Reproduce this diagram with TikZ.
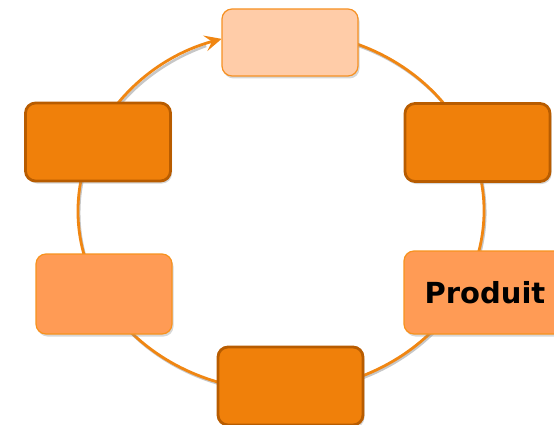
\documentclass[tikz,border=0pt]{standalone}
\usepackage{fontspec}
\setsansfont{DejaVu Sans}
\usetikzlibrary{arrows.meta,shadows,calc}
\definecolor{ringorange}{RGB}{240,134,18}
\definecolor{darkfill}{RGB}{240,128,10}
\definecolor{darkline}{RGB}{184,92,0}
\definecolor{midfill}{RGB}{255,155,85}
\definecolor{midline}{RGB}{247,146,30}
\definecolor{lightfill}{RGB}{255,204,168}
\definecolor{lightline}{RGB}{246,145,35}

\begin{document}
\begin{tikzpicture}[x=1pt,y=1pt]
		\tikzstyle{every node}+=[inner sep=0pt]
		\tikzstyle{box}=[rectangle, rounded corners=10pt, drop shadow={shadow xshift=1.5pt, shadow yshift=-2.5pt, fill=black!45, opacity=0.35}]
		\tikzstyle{darkbox}=[box, fill=darkfill, draw=darkline, line width=2.8pt, minimum width=145pt, minimum height=78pt]
		\tikzstyle{midbox}=[box, fill=midfill, draw=midline, line width=1.2pt, minimum width=136pt, minimum height=80pt]
		\tikzstyle{lightbox}=[box, fill=lightfill, draw=lightline, line width=1.2pt, minimum width=136pt, minimum height=67pt]
		\useasboundingbox (0,0) rectangle (554,424);
		\clip (0,0) rectangle (554,424);
		\coordinate (ring) at (281,213);
		\draw [black!22, line width=2.6pt] ($(ring)+(1.2pt,-1.8pt)$) ++(440:203pt and 180pt) arc [start angle=440, end angle=112, x radius=203pt, y radius=180pt];
		\draw [ringorange, line width=2.8pt, -{Stealth[length=17pt,width=16pt,inset=7pt]}] (ring) ++(440:203pt and 180pt) arc [start angle=440, end angle=107, x radius=203pt, y radius=180pt];
		\node [lightbox] (top) at (290,381.5) {};
		\node [darkbox] (topright) at (477.5,281.5) {};
		\node [midbox, minimum width=162pt, minimum height=83pt] (produit) at (485,131.5) {\sffamily\bfseries\fontsize{29}{34}\selectfont Produit};
		\node [darkbox] (bottom) at (290.5,38) {};
		\node [midbox] (leftbottom) at (104,130) {};
		\node [darkbox] (lefttop) at (98,282) {};
\end{tikzpicture}
\end{document}
